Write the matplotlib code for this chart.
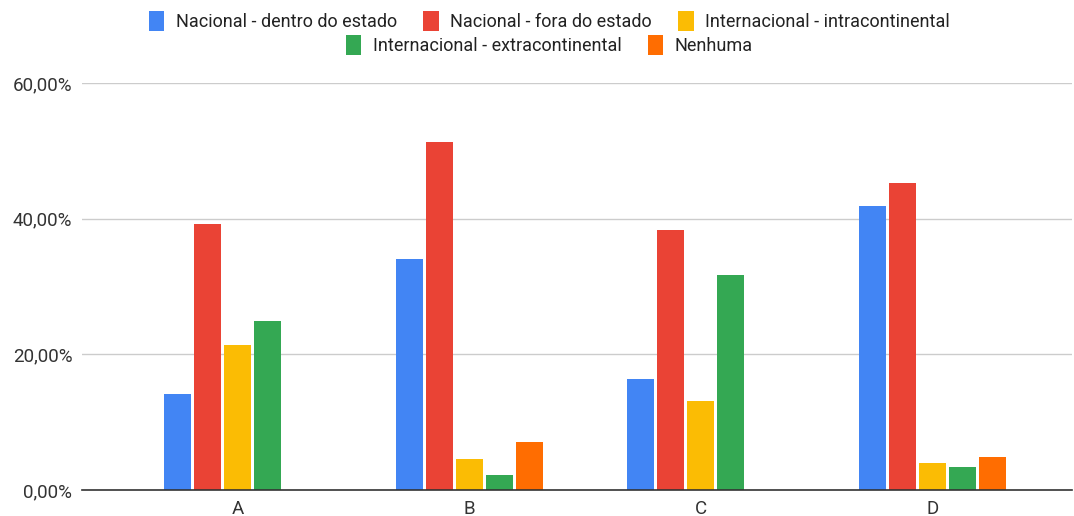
import matplotlib
matplotlib.use("Agg")
import matplotlib.pyplot as plt
import numpy as np
from matplotlib.patches import Patch

categories = ["A", "B", "C", "D"]
series_names = ["Nacional - dentro do estado", "Nacional - fora do estado",
                "Internacional - intracontinental", "Internacional - extracontinental",
                "Nenhuma"]
nac_dentro = [14.2, 34.0, 16.4, 41.9]
nac_fora = [39.2, 51.3, 38.3, 45.2]
int_intra = [21.4, 4.6, 13.1, 4.0]
int_extra = [24.9, 2.2, 31.7, 3.4]
nenhuma = [0.0, 7.1, 0.0, 4.9]
colors = ["#4285F4", "#EA4335", "#FBBC04", "#34A853", "#FF6D01"]
yticks = [0, 20, 40, 60]
ytick_labels = ["0,00%", "20,00%", "40,00%", "60,00%"]

series = [nac_dentro, nac_fora, int_intra, int_extra, nenhuma]

plt.rcParams['font.family'] = ['Roboto', 'DejaVu Sans']
fig = plt.figure(figsize=(10.74, 5.16), dpi=100)
ax = fig.add_axes([82/1074, 26/516, 990/1074, 407/516])

x = np.arange(len(categories))
step = 0.1296
width = 0.1166
for i, (vals, c) in enumerate(zip(series, colors)):
    ax.bar(x + (i - 2) * step, vals, width=width, color=c, zorder=3, label=series_names[i])

ax.set_xlim(-0.673, 3.604)
ax.set_ylim(0, 60)
ax.set_yticks(yticks)
ax.set_yticklabels(ytick_labels)
ax.set_xticks(x)
ax.set_xticklabels(categories)
ax.tick_params(axis='x', length=0, labelsize=13.5, colors='#333333', pad=7)
ax.tick_params(axis='y', length=0, labelsize=13.5, colors='#333333', pad=7)
ax.grid(axis='y', color='#cccccc', linewidth=1, zorder=0)
for s in ['top', 'right', 'left']:
    ax.spines[s].set_visible(False)
ax.spines['bottom'].set_color('#333333')
ax.spines['bottom'].set_linewidth(1.2)
ax.spines['bottom'].set_zorder(4)

handles = [Patch(facecolor=c, edgecolor='none') for c in colors]
kw = dict(loc='center', frameon=False, fontsize=13, handlelength=0.85, handleheight=1.4,
          handletextpad=0.65, columnspacing=1.45, labelcolor='#222222')
cx = 549.5 / 1074
leg1 = fig.legend(handles[:3], series_names[:3], bbox_to_anchor=(cx, 1 - 21/516), ncol=3, **kw)
leg2 = fig.legend(handles[3:], series_names[3:], bbox_to_anchor=(cx, 1 - 45/516), ncol=2, **kw)

fig.savefig("out.png", dpi=100)
